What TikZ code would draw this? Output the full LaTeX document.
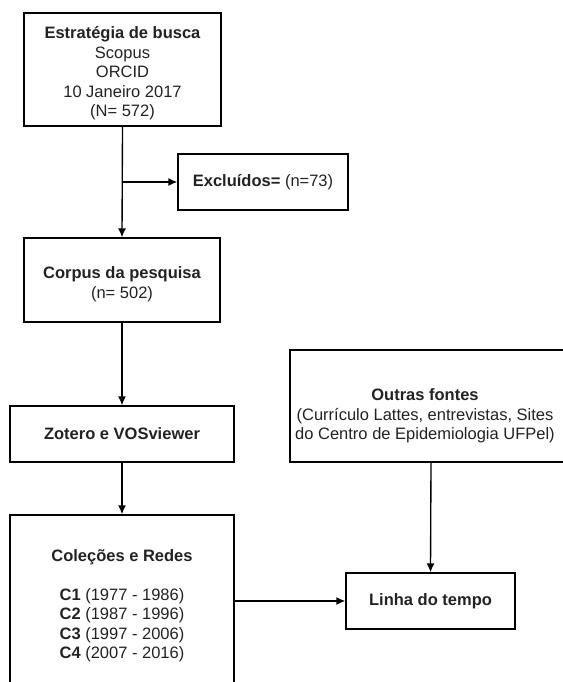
\documentclass[tikz,border=0pt]{standalone}
\usepackage{fontspec}
\setmainfont{Liberation Sans}
\usetikzlibrary{arrows.meta}
\definecolor{txt}{RGB}{34,34,34}
\newcommand{\topstrut}{\rule{0pt}{20pt}}
\begin{document}
\begin{tikzpicture}[x=1pt,y=-1pt,
  every node/.style={font=\fontsize{16.5}{19.5}\selectfont, text=txt},
  box/.style={draw=black, line width=1.35pt, rectangle, inner sep=0pt, align=center},
  conn/.style={draw=black, line width=1.35pt, -{Latex[length=9pt,width=8pt]}}]
\useasboundingbox (0,0) rectangle (562,682);
\node[box, minimum width=197, minimum height=113] (busca) at (122.5,69.5)
  {\topstrut\textbf{Estratégia de busca}\\Scopus\\ORCID\\10 Janeiro 2017\\(N= 572)};
\node[box, minimum width=170, minimum height=56] (excl) at (263,182)
  {\textbf{Excluídos=} (n=73)};
\node[box, minimum width=196, minimum height=84] (corpus) at (122,280)
  {\topstrut\textbf{Corpus da pesquisa}\\(n= 502)};
\node[box, minimum width=224, minimum height=56] (zotero) at (122,434)
  {\textbf{Zotero e VOSviewer}};
\node[box, minimum width=224, minimum height=173] (colec) at (122,601.5)
  {\topstrut\textbf{Coleções e Redes}\\[19.5pt]\textbf{C1} (1977 - 1986)\\\textbf{C2} (1987 - 1996)\\\textbf{C3} (1997 - 2006)\\\textbf{C4} (2007 - 2016)};
\node[box, minimum width=282, minimum height=112] (outras) at (431,406) {};
\node[align=center, inner sep=0pt] (outrastxt) at (425,416)
  {\textbf{Outras fontes}\\(Currículo Lattes, entrevistas, Sites\\do Centro de Epidemiologia UFPel)};
\node[box, minimum width=169, minimum height=56] (linha) at (430.5,601)
  {\textbf{Linha do tempo}};
\coordinate (br) at (busca.south |- excl.west);
\draw[conn] (busca.south) -- (corpus.north);
\draw[conn] (br) -- (excl.west);
\draw[conn] (corpus.south) -- (zotero.north);
\draw[conn] (zotero.south) -- (colec.north);
\draw[conn] (colec.east |- linha.west) -- (linha.west);
\draw[conn] (outras.south) -- (linha.north);
\end{tikzpicture}
\end{document}
